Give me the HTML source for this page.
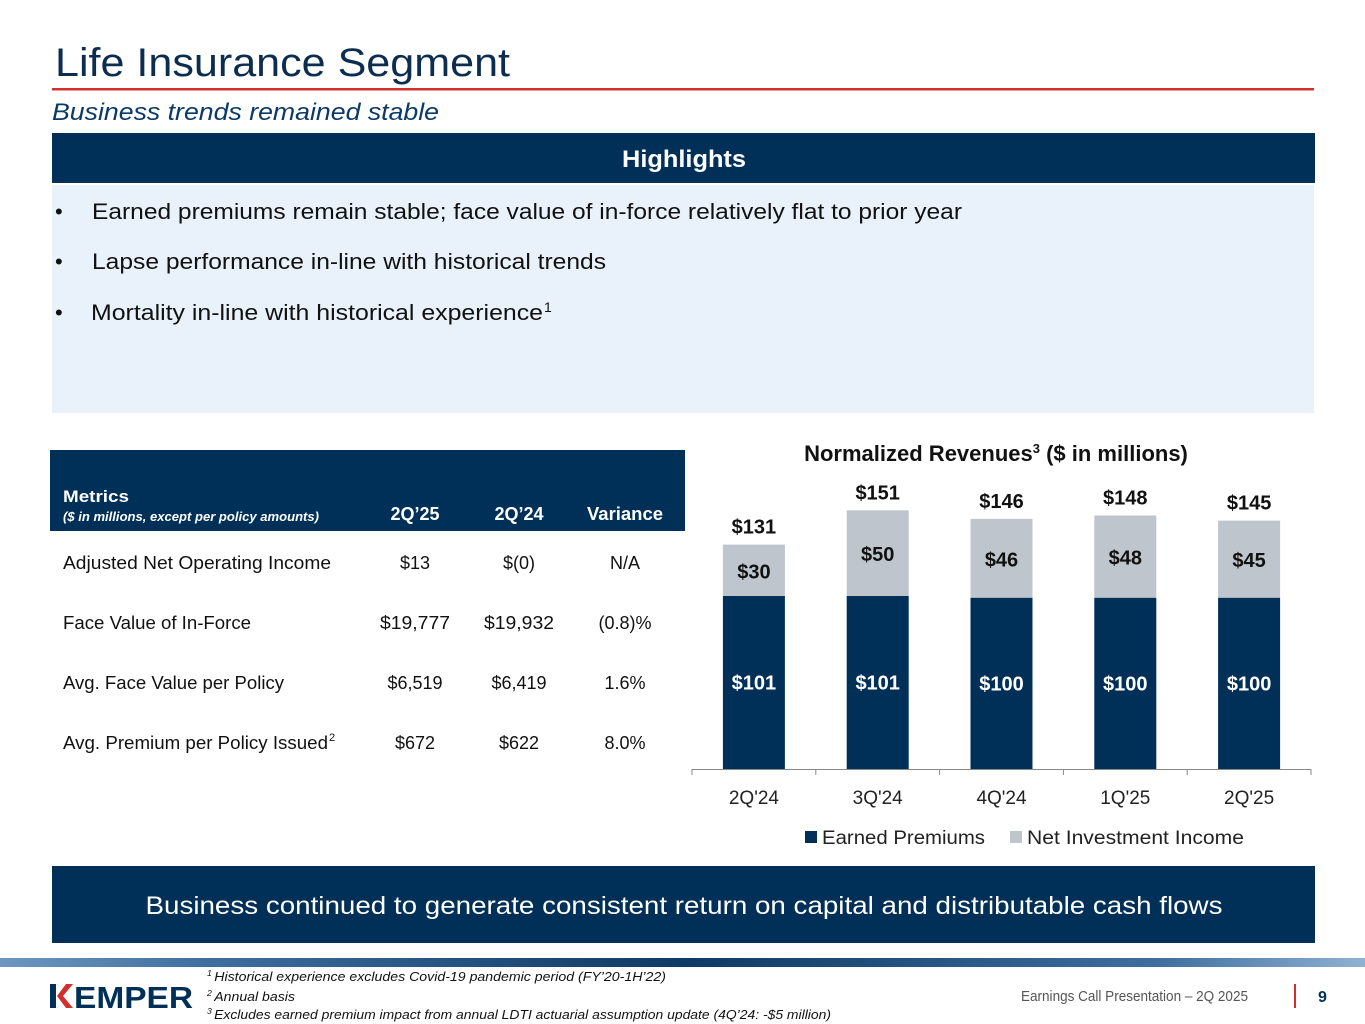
<!DOCTYPE html>
<html><head><meta charset="utf-8"><style>
html,body{margin:0;padding:0;background:#fff;}
svg{display:block;font-family:"Liberation Sans",sans-serif;}
</style></head><body>
<svg id="page" width="1365" height="1024" viewBox="0 0 1365 1024" xmlns="http://www.w3.org/2000/svg">
<defs>
<linearGradient id="stripe" x1="0" x2="1" y1="0" y2="0">
<stop offset="0" stop-color="#6d97c0"/><stop offset="0.15" stop-color="#3f6f9f"/><stop offset="0.5" stop-color="#0d3a66"/><stop offset="0.85" stop-color="#3f6f9f"/><stop offset="1" stop-color="#8fb1d3"/>
</linearGradient>
</defs>
<text x="55" y="76" font-size="40" fill="#0c2d4f" textLength="455" lengthAdjust="spacingAndGlyphs">Life Insurance Segment</text>
<rect x="52" y="88" width="1262" height="2.5" fill="#d0312d"/>
<text x="52" y="120" font-size="24" font-style="italic" fill="#0c3a66" textLength="387" lengthAdjust="spacingAndGlyphs">Business trends remained stable</text>

<rect x="52" y="133" width="1263" height="50" fill="#003057"/>
<text x="684" y="167" font-size="24" font-weight="bold" fill="#fff" text-anchor="middle" textLength="124" lengthAdjust="spacingAndGlyphs">Highlights</text>
<rect x="52" y="185" width="1262" height="228" fill="#e9f1fb"/>
<g font-size="22" fill="#111">
<text x="55" y="219">•</text>
<text x="92" y="219" textLength="870" lengthAdjust="spacingAndGlyphs">Earned premiums remain stable; face value of in-force relatively flat to prior year</text>
<text x="55" y="269">•</text>
<text x="92" y="269" textLength="514" lengthAdjust="spacingAndGlyphs">Lapse performance in-line with historical trends</text>
<text x="55" y="320">•</text>
<text x="91" y="320" textLength="452" lengthAdjust="spacingAndGlyphs">Mortality in-line with historical experience</text>
<text x="544" y="312" font-size="14">1</text>
</g>

<rect x="50" y="450" width="635" height="81" fill="#003057"/>
<g fill="#fff" font-weight="bold">
<text x="63" y="502" font-size="17" textLength="66" lengthAdjust="spacingAndGlyphs">Metrics</text>
<text x="63" y="521" font-size="13" font-style="italic" font-weight="bold" textLength="256" lengthAdjust="spacingAndGlyphs">($ in millions, except per policy amounts)</text>
<text x="415" y="520" font-size="18" text-anchor="middle">2Q’25</text>
<text x="519" y="520" font-size="18" text-anchor="middle">2Q’24</text>
<text x="625" y="520" font-size="18" text-anchor="middle" textLength="76" lengthAdjust="spacingAndGlyphs">Variance</text>
</g>
<g font-size="18" fill="#111">
<text x="63" y="569" textLength="268" lengthAdjust="spacingAndGlyphs">Adjusted Net Operating Income</text>
<text x="415" y="569" text-anchor="middle">$13</text><text x="519" y="569" text-anchor="middle">$(0)</text><text x="625" y="569" text-anchor="middle">N/A</text>
<text x="63" y="629" textLength="188" lengthAdjust="spacingAndGlyphs">Face Value of In-Force</text>
<text x="415" y="629" text-anchor="middle" textLength="70" lengthAdjust="spacingAndGlyphs">$19,777</text><text x="519" y="629" text-anchor="middle" textLength="70" lengthAdjust="spacingAndGlyphs">$19,932</text><text x="625" y="629" text-anchor="middle">(0.8)%</text>
<text x="63" y="689" textLength="221" lengthAdjust="spacingAndGlyphs">Avg. Face Value per Policy</text>
<text x="415" y="689" text-anchor="middle">$6,519</text><text x="519" y="689" text-anchor="middle">$6,419</text><text x="625" y="689" text-anchor="middle">1.6%</text>
<text x="63" y="749" textLength="265" lengthAdjust="spacingAndGlyphs">Avg. Premium per Policy Issued</text><text x="329" y="741" font-size="11">2</text>
<text x="415" y="749" text-anchor="middle">$672</text><text x="519" y="749" text-anchor="middle">$622</text><text x="625" y="749" text-anchor="middle">8.0%</text>
</g>

<text x="996" y="461" font-size="22" font-weight="bold" fill="#111" text-anchor="middle"><tspan>Normalized Revenues</tspan><tspan font-size="13" dy="-8">3</tspan><tspan dy="8"> ($ in millions)</tspan></text>
<g id="chart"></g>

<g>
<rect x="805" y="831" width="12" height="12" fill="#003057"/>
<text x="822" y="844" font-size="19" fill="#222" textLength="163" lengthAdjust="spacingAndGlyphs">Earned Premiums</text>
<rect x="1010" y="831" width="12" height="12" fill="#bfc5cc"/>
<text x="1027" y="844" font-size="19" fill="#222" textLength="217" lengthAdjust="spacingAndGlyphs">Net Investment Income</text>
</g>

<rect x="52" y="866" width="1263" height="77" fill="#003057"/>
<text x="684" y="914" font-size="25" fill="#fff" text-anchor="middle" textLength="1077" lengthAdjust="spacingAndGlyphs">Business continued to generate consistent return on capital and distributable cash flows</text>

<rect x="0" y="958" width="1365" height="9" fill="url(#stripe)"/>
<g>
<path d="M50 984 L56 984 L56 1008 L50 1008 Z" fill="#003057"/>
<path d="M57 996 L66 984 L73 984 L63 996 L73 1008 L66 1008 Z" fill="#d0312d"/>
<text x="74" y="1008" font-size="31" font-weight="bold" fill="#003057" textLength="119" lengthAdjust="spacingAndGlyphs">EMPER</text>
</g>
<g font-size="13" font-style="italic" fill="#111">
<text x="207" y="981" textLength="459" lengthAdjust="spacingAndGlyphs"><tspan font-size="8" dy="-5">1 </tspan><tspan dy="5">Historical experience excludes Covid-19 pandemic period (FY’20-1H’22)</tspan></text>
<text x="207" y="1001" textLength="88" lengthAdjust="spacingAndGlyphs"><tspan font-size="8" dy="-5">2 </tspan><tspan dy="5">Annual basis</tspan></text>
<text x="207" y="1019" textLength="624" lengthAdjust="spacingAndGlyphs"><tspan font-size="8" dy="-5">3 </tspan><tspan dy="5">Excludes earned premium impact from annual LDTI actuarial assumption update (4Q’24: -$5 million)</tspan></text>
</g>
<text x="1021" y="1001" font-size="15" fill="#555" textLength="227" lengthAdjust="spacingAndGlyphs">Earnings Call Presentation – 2Q 2025</text>
<rect x="1294" y="984" width="2" height="24" fill="#d0312d"/>
<text x="1318" y="1002" font-size="16" font-weight="bold" fill="#003057">9</text>
</svg>
<script>
const categories = ["2Q'24","3Q'24","4Q'24","1Q'25","2Q'25"];
const earnedPremiums = [101,101,100,100,100];
const netInvestmentIncome = [30,50,46,48,45];
const totals = [131,151,146,148,145];

const NS = "http://www.w3.org/2000/svg";
const g = document.getElementById("chart");
const axisLeft = 692, axisRight = 1311, baseY = 769, pxPerUnit = 1.713, barW = 62;
const band = (axisRight - axisLeft) / categories.length;
function xCenter(i){ return axisLeft + band * (i + 0.5); }
function yScale(v){ return baseY - v * pxPerUnit; }
function mk(tag, attrs, text){
  const el = document.createElementNS(NS, tag);
  for (const k in attrs) el.setAttribute(k, attrs[k]);
  if (text !== undefined) el.textContent = text;
  g.appendChild(el);
  return el;
}
categories.forEach((c, i) => {
  const cx = xCenter(i);
  const ep = earnedPremiums[i], ni = netInvestmentIncome[i];
  const yEp = yScale(ep), yTop = yScale(ep + ni);
  const b1 = mk("rect", {x: cx - barW/2, y: yEp, width: barW, height: baseY - yEp, fill: "#003057"});
  
  
  const b2 = mk("rect", {x: cx - barW/2, y: yTop, width: barW, height: yEp - yTop, fill: "#bfc5cc"});
  
  
  const l1 = mk("text", {x: cx, y: (yEp + baseY)/2 + 7, "font-size": 20, "font-weight": "bold", fill: "#fff", "text-anchor": "middle"}, "$" + ep);
  
  
  const l2 = mk("text", {x: cx, y: (yTop + yEp)/2 + 8, "font-size": 20, "font-weight": "bold", fill: "#111", "text-anchor": "middle"}, "$" + ni);
  
  
  const l3 = mk("text", {x: cx, y: yTop - 11, "font-size": 20, "font-weight": "bold", fill: "#111", "text-anchor": "middle"}, "$" + totals[i]);
  
  
  const cl = mk("text", {x: cx, y: 804, "font-size": 19, fill: "#222", "text-anchor": "middle"}, c);
  
  
});
const ax = mk("line", {x1: axisLeft, x2: axisRight, y1: baseY + 0.5, y2: baseY + 0.5, stroke: "#888", "stroke-width": 1});


for (let i = 0; i <= categories.length; i++) {
  const x = axisLeft + band * i;
  const t = mk("line", {x1: x, x2: x, y1: baseY, y2: baseY + 6, stroke: "#888", "stroke-width": 1});
  
  
}
</script>
</body></html>
